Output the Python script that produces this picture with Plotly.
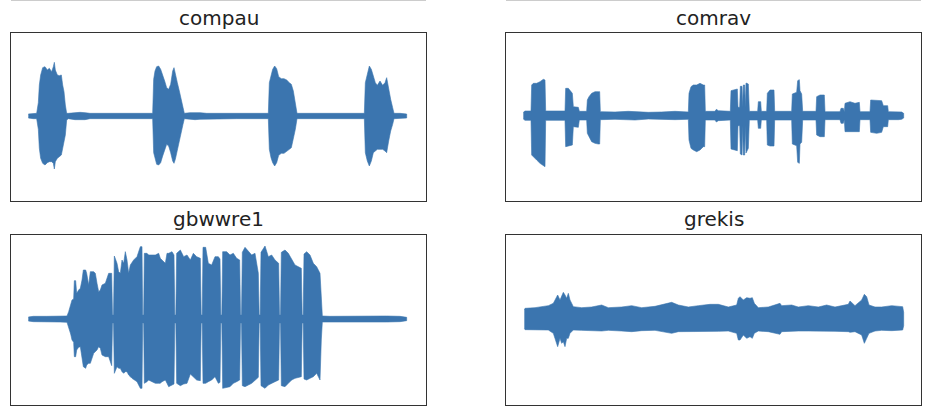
import plotly.graph_objects as go

W, H = 938, 412
BLUE = "#3b75af"

titles = ["compau", "comrav", "gbwwre1", "grekis"]

# envelopes of the waveforms: (frame, upper amplitude, lower amplitude)
compau_env = [
    (25, 6, -6), (40, 8, -8), (50, 8, -8), (55, 40, -40), (58, 93, -97), (62, 123, -127),
    (68, 145, -142), (75, 148, -147), (82, 138, -140), (88, 143, -137), (95, 133, -137),
    (100, 148, -142), (103, 161, -159), (106, 138, -137), (112, 123, -127), (118, 121, -122),
    (124, 123, -117), (128, 93, -97), (132, 73, -80), (136, 33, -57), (140, 8, -12),
    (145, 8, -8), (165, 10, -11), (180, 11, -12), (195, 10, -11), (210, 8, -8), (300, 8, -8),
    (398, 8, -8), (401, 110, -110), (405, 135, -125), (410, 148, -145), (416, 150, -147),
    (422, 140, -140), (428, 125, -120), (434, 105, -100), (440, 85, -85), (446, 80, -90),
    (452, 95, -110), (458, 135, -135), (462, 145, -142), (466, 130, -130), (472, 100, -110),
    (478, 75, -80), (484, 45, -50), (489, 20, -25), (493, 8, -8), (510, 10, -10),
    (525, 11, -11), (540, 10, -10), (560, 8, -8), (650, 8, -8), (745, 8, -8),
    (748, 100, -100), (753, 120, -125), (758, 140, -140), (764, 150, -150), (770, 142, -140),
    (776, 118, -118), (784, 112, -112), (792, 112, -112), (800, 108, -105), (808, 100, -100),
    (814, 95, -95), (820, 75, -70), (826, 40, -40), (831, 8, -8), (900, 8, -8), (1000, 8, -8),
    (1033, 8, -8), (1036, 100, -110), (1042, 130, -135), (1048, 150, -150), (1054, 140, -135),
    (1060, 120, -110), (1066, 100, -105), (1072, 92, -100), (1080, 105, -100), (1088, 92, -100),
    (1095, 100, -105), (1100, 115, -110), (1106, 80, -75), (1112, 50, -45), (1118, 25, -25),
    (1122, 8, -8), (1140, 8, -8), (1160, 6, -6),
]

comrav_env = [
    (25, 10, -10), (30, 14, -14), (48, 14, -14), (50, 92, -118), (55, 97, -123), (65, 97, -133),
    (75, 102, -143), (85, 109, -150), (90, 107, -153), (92, 14, -14), (150, 14, -14),
    (152, 82, -93), (160, 82, -93), (165, 77, -90), (172, 67, -88), (175, 27, -33),
    (190, 25, -35), (193, 13, -13), (215, 13, -13), (217, 47, -53), (222, 57, -63),
    (230, 67, -78), (240, 72, -83), (250, 72, -85), (254, 72, -85), (256, 12, -12),
    (300, 11, -11), (340, 13, -12), (360, 12, -13), (400, 10, -10), (440, 11, -11),
    (480, 13, -12), (520, 11, -11), (522, 67, -73), (528, 87, -98), (535, 92, -103),
    (545, 92, -108), (555, 97, -103), (565, 92, -93), (569, 92, -93), (571, 13, -13),
    (600, 13, -13), (604, 19, -19), (610, 15, -15), (646, 13, -13), (648, 75, -100),
    (667, 80, -105), (669, 25, -30), (674, 25, -30), (676, 88, -115), (681, 88, -118),
    (683, 25, -30), (685, 92, -118), (689, 92, -118), (691, 25, -30), (693, 98, -112),
    (700, 95, -98), (703, 13, -13), (728, 13, -13), (730, 42, -38), (737, 42, -38),
    (739, 13, -13), (755, 13, -13), (757, 67, -88), (765, 77, -91), (777, 77, -91),
    (779, 13, -13), (830, 13, -13), (832, 65, -85), (845, 70, -90), (848, 105, -140),
    (853, 108, -143), (855, 75, -85), (860, 65, -80), (863, 13, -13), (903, 13, -13),
    (905, 57, -58), (915, 62, -63), (928, 62, -63), (930, 12, -12), (975, 12, -12),
    (978, 22, -23), (985, 22, -23), (988, 12, -12), (990, 37, -48), (1005, 42, -48),
    (1020, 37, -48), (1033, 40, -48), (1035, 12, -12), (1065, 12, -12), (1067, 47, -50),
    (1085, 47, -53), (1100, 45, -50), (1105, 30, -33), (1118, 30, -33), (1120, 12, -12),
    (1150, 12, -12), (1160, 11, -11), (1166, 7, -7),
]

gbwwre1_env = [
    (25, 6, -6), (40, 8, -8), (80, 8, -9), (120, 9, -9), (141, 9, -10),
    (146, 22, -23), (152, 40, -45), (156, 57, -63), (161, 60, -70), (163, 115, -113),
    (167, 115, -113), (170, 77, -93), (176, 87, -85), (181, 92, -83), (186, 117, -110),
    (190, 147, -143), (197, 147, -148), (200, 137, -138), (206, 102, -133), (211, 142, -133),
    (221, 142, -103), (226, 137, -98), (231, 107, -93), (236, 82, -83), (241, 87, -88),
    (246, 102, -108), (256, 107, -113), (266, 137, -113), (275, 137, -140), (277.5, 12, -12),
    (280.5, 12, -12), (283, 189, -163), (291, 167, -143), (296, 142, -148), (301, 137, -148),
    (306, 177, -158), (311, 167, -163), (316, 202, -158), (321, 177, -158), (326, 137, -168),
    (331, 162, -173), (336, 172, -178), (341, 177, -183), (351, 187, -188), (361, 217, -208),
    (366, 217, -208), (368, 12, -12), (371, 12, -12), (373, 197, -193), (381, 197, -188),
    (386, 192, -183), (396, 192, -188), (406, 192, -193), (416, 197, -193), (421, 182, -193),
    (426, 177, -188), (436, 167, -183), (441, 197, -193), (446, 197, -203), (456, 202, -198),
    (462, 192, -195), (464.5, 12, -12), (467.5, 12, -12), (470, 197, -193), (481, 207, -200),
    (491, 187, -195), (501, 192, -193), (511, 177, -165), (520, 197, -173), (530, 187, -183),
    (541, 182, -185), (543.5, 12, -12), (546.5, 12, -12), (549, 215, -193), (557, 215, -193),
    (565, 167, -188), (575, 162, -183), (585, 187, -173), (595, 187, -193), (600, 180, -190),
    (602.5, 12, -12), (605.5, 12, -12), (608, 202, -208), (620, 202, -205), (630, 192, -203),
    (640, 197, -193), (650, 182, -188), (659, 177, -183), (661.5, 12, -12), (664.5, 12, -12),
    (667, 200, -200), (675, 215, -203), (685, 202, -198), (695, 192, -193), (705, 197, -183),
    (715, 137, -175), (717.5, 12, -12), (720.5, 12, -12), (723, 200, -200), (735, 219, -208),
    (745, 187, -198), (755, 192, -193), (765, 177, -188), (776, 167, -183), (778.5, 12, -12),
    (781.5, 12, -12), (784, 200, -200), (795, 207, -203), (805, 197, -193), (815, 177, -183),
    (825, 162, -178), (844, 152, -173), (846.5, 12, -12), (849.5, 12, -12), (852, 195, -180),
    (860, 202, -183), (870, 192, -178), (880, 167, -173), (890, 157, -163), (900, 137, -183),
    (904, 60, -60), (907, 9, -9), (930, 8, -8), (1000, 9, -10), (1050, 8, -9),
    (1100, 9, -9), (1140, 8, -8), (1160, 5, -5),
]

grekis_env = [
    (28, 27, -28), (30, 32, -32), (60, 34, -33), (80, 36, -33), (100, 40, -33), (115, 47, -43),
    (122, 62, -63), (128, 72, -83), (135, 57, -58), (140, 67, -73), (145, 80, -68),
    (150, 72, -83), (155, 62, -58), (160, 77, -58), (165, 57, -43), (175, 37, -33),
    (200, 34, -34), (230, 36, -36), (260, 42, -36), (280, 34, -34), (320, 36, -36),
    (350, 40, -38), (380, 34, -35), (420, 38, -34), (470, 50, -43), (490, 42, -38),
    (520, 36, -36), (550, 40, -36), (585, 44, -37), (610, 44, -37), (640, 36, -36),
    (665, 42, -43), (670, 62, -63), (675, 67, -63), (685, 57, -48), (695, 64, -58),
    (705, 62, -53), (712, 64, -58), (718, 47, -43), (730, 34, -36), (760, 36, -38),
    (795, 47, -46), (800, 40, -38), (830, 42, -36), (850, 36, -36), (880, 40, -36),
    (910, 36, -36), (935, 42, -36), (960, 36, -37), (1000, 44, -38), (1005, 54, -40),
    (1020, 40, -38), (1040, 57, -48), (1048, 74, -73), (1055, 67, -58), (1062, 42, -43),
    (1080, 36, -36), (1100, 36, -34), (1130, 40, -35), (1163, 37, -33), (1166, 20, -20),
]

envelopes = [compau_env, comrav_env, gbwwre1_env, grekis_env]

# layout geometry (pixels) and axis ranges
boxes = [(11, 426, 33, 201), (506, 921, 33, 201), (11, 426, 235, 405), (506, 921, 235, 405)]
x_ranges = [[-27, 1218]] * 4
y_ranges = [[-255, 249], [-256, 248], [-258, 252], [-258, 252]]
title_baselines = [24, 24, 224.5, 224.5]

fig = go.Figure()
layout = dict(
    width=W, height=H, margin=dict(l=0, r=0, t=0, b=0),
    paper_bgcolor="white", plot_bgcolor="white", showlegend=False,
    annotations=[], shapes=[],
)

for i, (env, box) in enumerate(zip(envelopes, boxes)):
    k = i + 1
    xs = [p[0] for p in env]
    hi = [p[1] for p in env]
    lo = [p[2] for p in env]
    fig.add_trace(go.Scatter(
        x=xs + xs[::-1], y=hi + lo[::-1], mode="lines", fill="toself",
        fillcolor=BLUE, line=dict(color=BLUE, width=0.6),
        xaxis="x" if k == 1 else f"x{k}", yaxis="y" if k == 1 else f"y{k}",
        hoverinfo="skip",
    ))
    x0, x1, y0, y1 = box
    ax = dict(domain=[x0 / W, x1 / W], range=x_ranges[i], showticklabels=False,
              ticks="", showgrid=False, zeroline=False, showline=True, mirror=True,
              linecolor="#333333", linewidth=1, anchor="y" if k == 1 else f"y{k}")
    ay = dict(domain=[1 - y1 / H, 1 - y0 / H], range=y_ranges[i], showticklabels=False,
              ticks="", showgrid=False, zeroline=False, showline=True, mirror=True,
              linecolor="#333333", linewidth=1, anchor="x" if k == 1 else f"x{k}")
    layout["xaxis" if k == 1 else f"xaxis{k}"] = ax
    layout["yaxis" if k == 1 else f"yaxis{k}"] = ay
    layout["annotations"].append(dict(
        text=titles[i], xref="paper", yref="paper",
        x=(x0 + x1) / 2 / W, y=1 - (title_baselines[i] - 6) / H,
        xanchor="center", yanchor="middle", showarrow=False,
        font=dict(family="DejaVu Sans", size=20, color="#222222"),
    ))

# faint edge of the row above (cropped)
for (x0, x1) in [(11, 426), (506, 921)]:
    layout["shapes"].append(dict(type="line", xref="paper", yref="paper",
                                 x0=x0 / W, x1=x1 / W, y0=1 - 0.5 / H, y1=1 - 0.5 / H,
                                 line=dict(color="#cccccc", width=1)))

fig.update_layout(**layout)
fig.write_html("out.html")
